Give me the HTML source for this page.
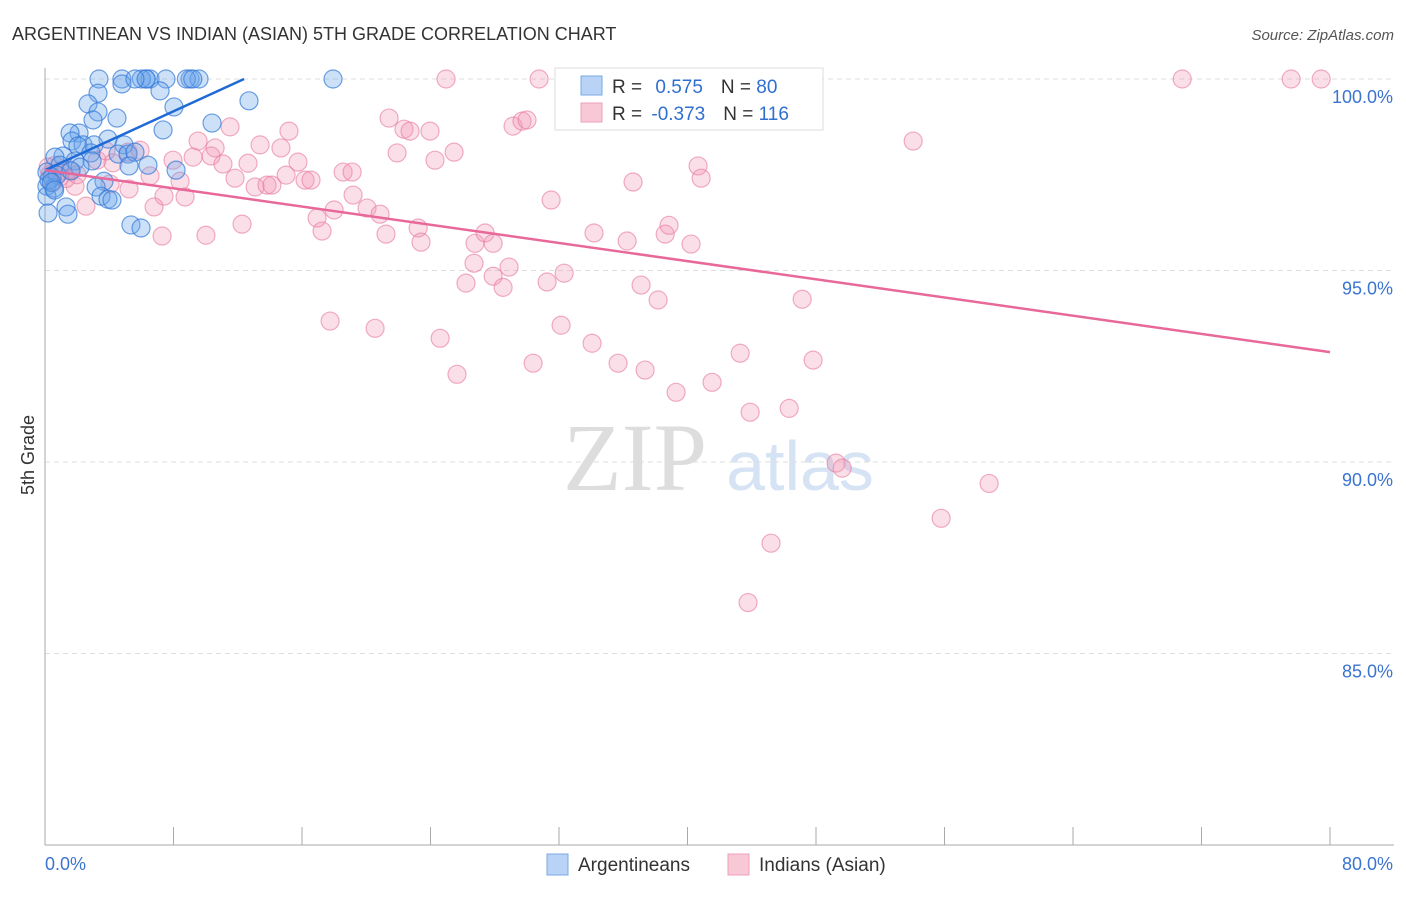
<!DOCTYPE html>
<html><head><meta charset="utf-8"><style>
body{margin:0;background:#fff;font-family:"Liberation Sans",sans-serif;}
svg text{font-family:"Liberation Sans",sans-serif;}
</style></head><body>
<svg id="chart" width="1406" height="892" xmlns="http://www.w3.org/2000/svg">
<text x="12" y="40" font-size="18" fill="#333">ARGENTINEAN VS INDIAN (ASIAN) 5TH GRADE CORRELATION CHART</text>
<text x="1394" y="40" font-size="15" fill="#555" text-anchor="end" font-style="italic">Source: ZipAtlas.com</text>
<text x="34" y="455" font-size="18" fill="#333" transform="rotate(-90 34 455)" text-anchor="middle">5th Grade</text>
<g>
<text x="635" y="490" font-size="96" fill="#ddd" text-anchor="middle" font-family="Liberation Serif" style="font-family:'Liberation Serif',serif">ZIP</text>
<text x="800" y="490" font-size="70" fill="#d5e3f5" text-anchor="middle">atlas</text>
</g>
<g id="grid"></g><g id="axes"></g><g id="pts"></g><g id="lines"></g>
<g>
<rect x="555" y="68" width="268" height="62" fill="#fff" stroke="#ddd"/>
<rect x="581" y="76" width="21" height="19" fill="#b8d3f5" stroke="#7aa9e6"/>
<rect x="581" y="103" width="21" height="19" fill="#f9c8d6" stroke="#eda0b8"/>
<text x="612" y="93" font-size="19" fill="#333">R = <tspan fill="#2f6fd0" dx="8">0.575</tspan><tspan dx="18">N = </tspan><tspan fill="#2f6fd0">80</tspan></text>
<text x="612" y="120" font-size="19" fill="#333">R = <tspan fill="#2f6fd0" dx="4">-0.373</tspan><tspan dx="18">N = </tspan><tspan fill="#2f6fd0">116</tspan></text>
</g>
<g>
<rect x="547" y="854" width="21" height="21" fill="#b8d3f5" stroke="#7aa9e6"/>
<text x="578" y="871" font-size="19" fill="#333">Argentineans</text>
<rect x="728" y="854" width="21" height="21" fill="#f9c8d6" stroke="#eda0b8"/>
<text x="759" y="871" font-size="19" fill="#333">Indians (Asian)</text>
</g>
</svg>
<script>
const yTicks=[100,95,90,85];
const yTickLabels=["100.0%","95.0%","90.0%","85.0%"];
const xTicks=[0,8,16,24,32,40,48,56,64,72,80];
const pinkX=[24.97,30.76,46.82,70.8,77.58,79.45,54.05,21.42,22.35,23.97,22.73,29.14,29.7,30.01,15.19,11.52,9.53,10.59,13.39,14.69,7.97,9.22,10.34,11.08,12.64,15.75,21.92,24.28,25.47,18.56,19.12,15.01,16.19,16.56,11.83,13.08,13.82,14.13,19.18,20.05,20.86,18.0,16.94,17.25,21.23,23.23,23.41,26.77,27.4,27.9,31.51,34.18,36.24,38.61,38.85,40.22,40.66,40.85,36.61,26.71,26.21,27.9,28.89,28.52,31.26,32.32,37.11,38.17,47.14,17.75,20.55,24.6,32.13,34.06,25.65,30.39,35.68,37.36,39.29,41.53,43.28,47.82,43.9,46.33,49.25,49.63,58.78,55.79,45.2,43.77,8.41,7.41,8.72,6.79,6.54,5.23,4.05,4.23,3.24,2.55,1.87,1.56,0.93,0.62,5.17,5.92,3.8,7.29,10.02,12.27,0.3,0.5,1.0,1.3,0.2,2.0];
const pinkY=[100,100,100,100,100,100,98.38,98.98,98.69,98.64,98.64,98.77,98.9,98.93,98.64,98.75,98.38,98.2,98.28,98.2,97.88,97.96,97.99,97.78,97.8,97.83,98.07,97.88,98.09,97.57,97.57,97.49,97.36,97.36,97.41,97.18,97.23,97.23,96.97,96.63,96.47,96.58,96.37,96.03,95.95,96.11,95.74,95.71,95.98,95.71,96.84,95.98,95.77,95.95,96.18,95.69,97.73,97.41,97.31,95.19,94.67,94.85,95.09,94.56,94.7,94.93,94.62,94.23,94.25,93.68,93.49,93.23,93.57,93.1,92.29,92.58,92.58,92.4,91.82,92.08,92.84,92.66,91.3,91.4,89.97,89.84,89.44,88.53,87.88,86.33,97.33,96.94,96.92,96.66,97.47,97.13,97.26,97.81,97.88,96.68,97.2,97.62,97.44,97.75,98.09,98.14,98.12,95.9,95.92,96.21,97.5,97.3,97.6,97.4,97.7,97.5];
const blueX=[3.36,4.79,6.29,6.54,7.53,9.03,9.59,17.93,4.79,3.3,7.16,12.7,2.68,8.03,3.3,4.48,2.99,2.12,1.56,7.35,10.4,1.68,3.92,2.37,2.05,3.05,4.92,2.86,4.55,5.17,1.12,0.62,5.6,1.87,2.93,6.41,8.16,0.93,5.23,2.18,0.12,0.44,0.75,1.62,3.67,0.12,0.56,3.18,0.12,1.31,1.43,3.49,3.92,4.17,5.35,5.98,0.19,0.25,6.0,6.3,8.8,9.2,5.6,0.4,0.6];
const blueY=[100,100,100,100,100,100,100,100,99.87,99.63,99.69,99.43,99.35,99.27,99.14,98.98,98.93,98.59,98.59,98.67,98.85,98.38,98.43,98.28,98.25,98.28,98.28,98.07,98.04,98.04,97.99,97.96,98.09,97.86,97.86,97.75,97.62,97.75,97.73,97.7,97.57,97.44,97.49,97.6,97.33,97.2,97.15,97.18,96.94,96.66,96.47,96.94,96.86,96.84,96.19,96.11,96.5,97.36,100,100,100,100,100,97.3,97.1];
const blueTrend=[[0,97.62],[12.39,100]];
const pinkTrend=[[0,97.62],[80,92.87]];
const NS="http://www.w3.org/2000/svg";
const X=v=>45+v*(1285/80), Y=v=>79+(100-v)*(766/20);
function mk(tag,attrs,parent){const e=document.createElementNS(NS,tag);for(const k in attrs)e.setAttribute(k,attrs[k]);document.getElementById(parent).appendChild(e);return e;}
yTicks.forEach((t,i)=>{
 const l=mk('line',{x1:45,x2:1394,y1:Y(t),y2:Y(t),stroke:'#ddd','stroke-dasharray':'5,4'},'grid');
 
 
 const tx=mk('text',{x:1393,y:Y(t)+24,'font-size':18,fill:'#3b74d0','text-anchor':'end'},'axes');
 tx.textContent=yTickLabels[i];
 
 
});
const ax=mk('line',{x1:45,x2:45,y1:68,y2:845,stroke:'#aaa'},'axes');


const bx=mk('line',{x1:45,x2:1394,y1:845,y2:845,stroke:'#aaa'},'axes');


xTicks.forEach(t=>{const l=mk('line',{x1:X(t),x2:X(t),y1:827,y2:845,stroke:'#aaa'},'axes');
 
 });
const xl0=mk('text',{x:45,y:870,'font-size':18,fill:'#3b74d0'},'axes');xl0.textContent='0.0%';


const xl1=mk('text',{x:1393,y:870,'font-size':18,fill:'#3b74d0','text-anchor':'end'},'axes');xl1.textContent='80.0%';


pinkX.forEach((v,i)=>{const c=mk('circle',{cx:X(v),cy:Y(pinkY[i]),r:9,fill:'rgba(242,150,180,0.3)',stroke:'rgba(232,120,155,0.6)','stroke-width':1.2},'pts');
 
 });
blueX.forEach((v,i)=>{const c=mk('circle',{cx:X(v),cy:Y(blueY[i]),r:9,fill:'rgba(110,165,235,0.35)',stroke:'rgba(50,120,215,0.7)','stroke-width':1.2},'pts');
 
 });
const bl=mk('line',{x1:X(blueTrend[0][0]),y1:Y(blueTrend[0][1]),x2:X(blueTrend[1][0]),y2:Y(blueTrend[1][1]),stroke:'#1f6ad6','stroke-width':2.5},'lines');


const pl=mk('line',{x1:X(pinkTrend[0][0]),y1:Y(pinkTrend[0][1]),x2:X(pinkTrend[1][0]),y2:Y(pinkTrend[1][1]),stroke:'#e8689a','stroke-width':2.5},'lines');


</script>
</body></html>
